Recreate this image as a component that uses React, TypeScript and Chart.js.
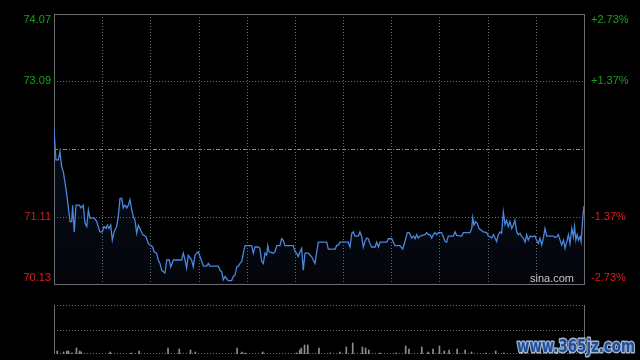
import React, { useEffect, useRef } from "react";
import { Chart, registerables } from "chart.js";

Chart.register(...registerables);

// ---- data ----
const PREV_CLOSE = 72.1;
const PRICE_TICKS = [70.13, 71.11, 72.1, 73.09, 74.07];
const PRICE_LABELS = ["70.13", "71.11", "", "73.09", "74.07"];
const PCT_LABELS = ["-2.73%", "-1.37%", "", "+1.37%", "+2.73%"];
const TIME_GRID = [30, 60, 90, 120, 150, 180, 210, 240, 270, 300];
const SESSION_MINUTES = 330;

const minutes = [
  0, 1.2, 2.7, 3.7, 4.8, 5.8, 7.6, 10, 11, 11.6, 12.6, 13.7, 15.8, 16.8, 18.2, 19.3, 20.4, 21.4, 22.4, 25.1,
  26.6, 28.6, 30.1, 31.1, 32.4, 33.2, 34.2, 35.3, 36.3, 37.4, 39, 40, 41.1, 42.2, 43.1, 44.2, 45.3, 46.3, 47.3, 48.4,
  49.4, 50.4, 51.5, 52.5, 53.5, 55.2, 57.3, 58.7, 59.8, 61.5, 62.3, 63.9, 64.9, 66, 67.1, 68.1, 69.1, 70.2, 71.8, 72.7,
  74.3, 79.5, 80.5, 81.6, 82.6, 83.6, 85.1, 85.7, 86.7, 87.8, 88.8, 89.8, 90.9, 92, 93, 95, 96.1, 97.1, 102.3, 103.4,
  104.4, 105.4, 106.5, 107.5, 108.5, 110.6, 111.6, 112.7, 113.8, 114.8, 115.8, 116.9, 117.9, 118.9, 120, 123.1, 124.1, 125.1, 127.2, 128.2,
  129.3, 130.3, 131.4, 132.4, 133.1, 133.9, 136.5, 137.6, 138.7, 140.7, 141.7, 142.7, 143.8, 149, 150.1, 151.1, 152.1, 153.2, 154.2, 155.2,
  156.3, 158.4, 159.4, 160.4, 161.4, 162.5, 163.6, 164.6, 169.8, 170.8, 175, 176, 177.1, 178.1, 183.2, 184.3, 185.4, 186.4, 187.4, 189.5,
  190.5, 191.6, 192.6, 193.6, 194.7, 195.7, 196.7, 197.8, 199.9, 200.9, 202, 203, 207.2, 208.2, 210.3, 211.3, 212.3, 215.4, 217.1, 218.5,
  220, 221.2, 222.7, 223.8, 224.8, 225.8, 226.8, 227.9, 231, 232, 233.1, 234.1, 235.2, 236.2, 237.2, 238.3, 239.3, 241.4, 242.4, 243.5,
  244.5, 245.5, 248.6, 249.7, 250.7, 253.8, 254.9, 259, 260.1, 260.7, 261.5, 262.5, 263.5, 264.6, 265.8, 267.3, 269.4, 270.4, 271.5, 272.5,
  273.6, 274.6, 275.6, 276.6, 277.7, 278.7, 279.8, 280.8, 281.8, 282.9, 283.9, 285, 286, 287, 288.1, 289.1, 290.2, 291.2, 292.2, 293.3,
  294.3, 295.3, 296.4, 297.4, 299.5, 300.5, 301.6, 302.6, 303.7, 304.7, 305.7, 306.8, 310.9, 312, 313, 314, 315.1, 316.1, 317.2, 318.2,
  319.3, 320.3, 321.3, 322.4, 323.4, 324.1, 324.9, 325.7, 326.6, 327.6, 328.2, 329.2, 330,
];

const prices = [
  72.39, 71.94, 71.94, 72.06, 71.84, 71.77, 71.5, 71.04, 71.04, 71.28, 70.89, 71.28, 71.28, 71.24, 71.28, 71.02, 70.97, 71.21, 71.09, 71.09,
  71.04, 70.89, 70.89, 70.97, 70.94, 70.99, 70.94, 70.99, 70.77, 70.89, 70.97, 71.11, 71.38, 71.38, 71.24, 71.28, 71.24, 71.28, 71.36, 71.21,
  71.11, 71.06, 70.87, 70.99, 70.94, 70.85, 70.82, 70.72, 70.7, 70.67, 70.6, 70.58, 70.48, 70.43, 70.33, 70.31, 70.29, 70.48, 70.48, 70.38,
  70.48, 70.48, 70.58, 70.48, 70.36, 70.55, 70.5, 70.48, 70.38, 70.55, 70.58, 70.6, 70.53, 70.46, 70.39, 70.39, 70.43, 70.39, 70.39, 70.33,
  70.31, 70.19, 70.24, 70.21, 70.18, 70.18, 70.24, 70.26, 70.38, 70.39, 70.43, 70.46, 70.58, 70.69, 70.69, 70.69, 70.58, 70.67, 70.67, 70.65,
  70.46, 70.43, 70.58, 70.55, 70.69, 70.6, 70.58, 70.6, 70.69, 70.69, 70.79, 70.77, 70.69, 70.69, 70.6, 70.58, 70.53, 70.6, 70.65, 70.33,
  70.58, 70.58, 70.55, 70.53, 70.48, 70.43, 70.6, 70.74, 70.74, 70.64, 70.64, 70.69, 70.7, 70.74, 70.74, 70.67, 70.87, 70.89, 70.83, 70.83,
  70.89, 70.82, 70.67, 70.75, 70.8, 70.79, 70.72, 70.67, 70.67, 70.74, 70.67, 70.74, 70.74, 70.79, 70.79, 70.74, 70.69, 70.69, 70.64, 70.75,
  70.88, 70.88, 70.8, 70.83, 70.79, 70.85, 70.8, 70.83, 70.85, 70.88, 70.85, 70.85, 70.8, 70.85, 70.88, 70.85, 70.88, 70.88, 70.82, 70.75,
  70.74, 70.83, 70.83, 70.89, 70.84, 70.83, 70.88, 70.88, 70.94, 71.1, 70.99, 71.04, 71.02, 70.94, 70.92, 70.89, 70.88, 70.83, 70.82, 70.8,
  70.85, 70.8, 70.75, 70.85, 70.89, 70.87, 71.18, 71.0, 71.06, 70.97, 71.04, 70.94, 70.99, 71.06, 70.89, 70.85, 70.87, 70.82, 70.8, 70.74,
  70.85, 70.77, 70.83, 70.82, 70.83, 70.77, 70.72, 70.8, 70.7, 70.8, 70.94, 70.83, 70.83, 70.81, 70.82, 70.85, 70.77, 70.7, 70.77, 70.65,
  70.75, 70.85, 70.72, 70.94, 70.82, 70.97, 70.77, 70.85, 70.77, 70.82, 70.75, 71.09, 71.27,
];

const volMinutes = [
  2, 6, 8, 9, 11, 14, 16, 17, 35, 48, 53, 71, 78, 85, 88, 114, 117, 119, 130, 151, 153, 154, 156, 158, 165, 172,
  178, 182, 186, 192, 194, 196, 203, 213, 219, 221, 229, 233, 236, 240, 243, 246, 251, 256, 260, 269, 275, 280,
  291, 303, 313, 321, 328,
];
const volumes = [
  30, 20, 30, 30, 10, 60, 30, 20, 20, 10, 30, 60, 50, 40, 20, 60, 20, 10, 20, 10, 40, 60, 90, 90, 60, 10,
  20, 70, 110, 70, 60, 40, 10, 10, 80, 50, 70, 20, 50, 80, 30, 40, 50, 40, 20, 10, 30, 10,
  30, 20, 30, 20, 40,
];
const VOL_MAX = 490;

// ---- styles ----
const BORDER = "#6e6e6e";
const GRID = "#6a6a6a";
const UP = "#16a316";
const DOWN = "#dc1e1e";
const LINE = "#4a86dc";
const FONT = '11px "Liberation Sans", Arial, sans-serif';

function hLine(ctx: CanvasRenderingContext2D, x1: number, x2: number, y: number) {
  ctx.beginPath();
  ctx.moveTo(x1, y);
  ctx.lineTo(x2, y);
  ctx.stroke();
}
function vLine(ctx: CanvasRenderingContext2D, x: number, y1: number, y2: number) {
  ctx.beginPath();
  ctx.moveTo(x, y1);
  ctx.lineTo(x, y2);
  ctx.stroke();
}

const mainPlugin = {
  id: "mainDecor",
  beforeDatasetsDraw(chart: any) {
    const { ctx, chartArea: a, scales } = chart;
    const x = scales.x;
    const y = scales.y;
    ctx.save();
    ctx.lineWidth = 1;
    ctx.strokeStyle = GRID;
    ctx.setLineDash([1, 2]);
    for (const m of TIME_GRID) {
      const px = Math.round(x.getPixelForValue(m)) + 0.5;
      vLine(ctx, px, a.top, a.bottom);
    }
    for (const v of PRICE_TICKS) {
      if (v === PRICE_TICKS[0] || v === PRICE_TICKS[PRICE_TICKS.length - 1] || v === PREV_CLOSE) continue;
      const py = Math.round(y.getPixelForValue(v)) + 0.5;
      hLine(ctx, a.left, a.right, py);
    }
    ctx.strokeStyle = "#8a8a8a";
    ctx.setLineDash([4, 2, 1, 2]);
    const pc = Math.round(y.getPixelForValue(PREV_CLOSE)) + 0.5;
    hLine(ctx, a.left, a.right, pc);
    ctx.setLineDash([]);
    ctx.strokeStyle = BORDER;
    ctx.strokeRect(a.left + 0.5, a.top + 0.5, a.right - a.left, a.bottom - a.top);
    ctx.restore();
  },
  afterDraw(chart: any) {
    const { ctx, chartArea: a, scales } = chart;
    const y = scales.y;
    ctx.save();
    ctx.font = FONT;
    ctx.textBaseline = "middle";
    PRICE_TICKS.forEach((v, i) => {
      if (!PRICE_LABELS[i]) return;
      let py = y.getPixelForValue(v);
      py = Math.min(Math.max(py, a.top + 6), a.bottom - 6);
      ctx.fillStyle = v > PREV_CLOSE ? UP : DOWN;
      ctx.textAlign = "right";
      ctx.fillText(PRICE_LABELS[i], a.left - 3, py);
      ctx.textAlign = "left";
      ctx.fillText(PCT_LABELS[i], a.right + 7, py);
    });
    ctx.fillStyle = "#c4c4c4";
    ctx.textAlign = "right";
    ctx.font = '11px "Liberation Sans", Arial, sans-serif';
    ctx.fillText("sina.com", a.right - 10, a.bottom - 5);
    ctx.restore();
  },
};

const volPlugin = {
  id: "volDecor",
  beforeDatasetsDraw(chart: any) {
    const { ctx, chartArea: a, scales } = chart;
    const y = scales.y;
    ctx.save();
    ctx.lineWidth = 1;
    ctx.strokeStyle = GRID;
    ctx.setLineDash([1, 2]);
    hLine(ctx, a.left, a.right, a.top + 0.5);
    hLine(ctx, a.left, a.right, Math.round(y.getPixelForValue(VOL_MAX / 2)) + 0.5);
    hLine(ctx, a.left, a.right, a.bottom - 0.5);
    ctx.setLineDash([]);
    ctx.strokeStyle = BORDER;
    vLine(ctx, a.left + 0.5, a.top, a.bottom);
    vLine(ctx, a.right + 0.5, a.top, a.bottom);
    ctx.restore();
  },
  afterDraw(chart: any) {
    const { ctx } = chart;
    ctx.save();
    ctx.font = 'bold 18px "DejaVu Sans", sans-serif';
    ctx.textAlign = "left";
    ctx.textBaseline = "alphabetic";
    ctx.lineJoin = "round";
    ctx.lineWidth = 3;
    ctx.strokeStyle = "rgba(190,210,235,0.85)";
    ctx.strokeText("www.365jz.com", 517, 352, 118);
    ctx.fillStyle = "#1f4f9c";
    ctx.fillText("www.365jz.com", 517, 352, 118);
    ctx.restore();
  },
};

export default function App() {
  const mainRef = useRef<HTMLCanvasElement>(null);
  const volRef = useRef<HTMLCanvasElement>(null);

  useEffect(() => {
    const main = new Chart(mainRef.current!, {
      type: "line",
      data: {
        datasets: [
          {
            data: minutes.map((m, i) => ({ x: m, y: prices[i] })),
            borderColor: LINE,
            borderWidth: 1.3,
            pointRadius: 0,
            tension: 0,
            fill: "start",
            backgroundColor: (c: any) => {
              const area = c.chart.chartArea;
              if (!area) return "rgba(40,80,160,0.12)";
              const g = c.chart.ctx.createLinearGradient(0, area.top, 0, area.bottom);
              g.addColorStop(0, "rgba(50,90,170,0.22)");
              g.addColorStop(1, "rgba(50,90,170,0.06)");
              return g;
            },
          },
        ],
      },
      options: {
        responsive: false,
        animation: false,
        events: [],
        layout: { padding: { left: 54, right: 56, top: 14, bottom: 76 } },
        scales: {
          x: { type: "linear", min: 0, max: SESSION_MINUTES, display: false },
          y: { type: "linear", min: PRICE_TICKS[0], max: PRICE_TICKS[PRICE_TICKS.length - 1], display: false },
        },
        plugins: { legend: { display: false }, tooltip: { enabled: false } },
      },
      plugins: [mainPlugin],
    } as any);

    const vol = new Chart(volRef.current!, {
      type: "bar",
      data: {
        datasets: [
          {
            data: volMinutes.map((m, i) => ({ x: m, y: volumes[i] })),
            backgroundColor: "#8c8c8c",
            barThickness: 1,
            grouped: false,
          },
        ],
      },
      options: {
        responsive: false,
        animation: false,
        events: [],
        layout: { padding: { left: 54, right: 56, top: 305, bottom: 6 } },
        scales: {
          x: { type: "linear", min: 0, max: SESSION_MINUTES, display: false, offset: false },
          y: { min: 0, max: VOL_MAX, display: false },
        },
        plugins: { legend: { display: false }, tooltip: { enabled: false } },
      },
      plugins: [volPlugin],
    } as any);

    return () => {
      main.destroy();
      vol.destroy();
    };
  }, []);

  const canvasStyle: React.CSSProperties = { position: "absolute", left: 0, top: 0 };
  return (
    <div style={{ position: "fixed", left: 0, top: 0, width: 640, height: 360, background: "#000", overflow: "hidden" }}>
      <canvas ref={mainRef} width={640} height={360} style={canvasStyle} />
      <canvas ref={volRef} width={640} height={360} style={canvasStyle} />
    </div>
  );
}
